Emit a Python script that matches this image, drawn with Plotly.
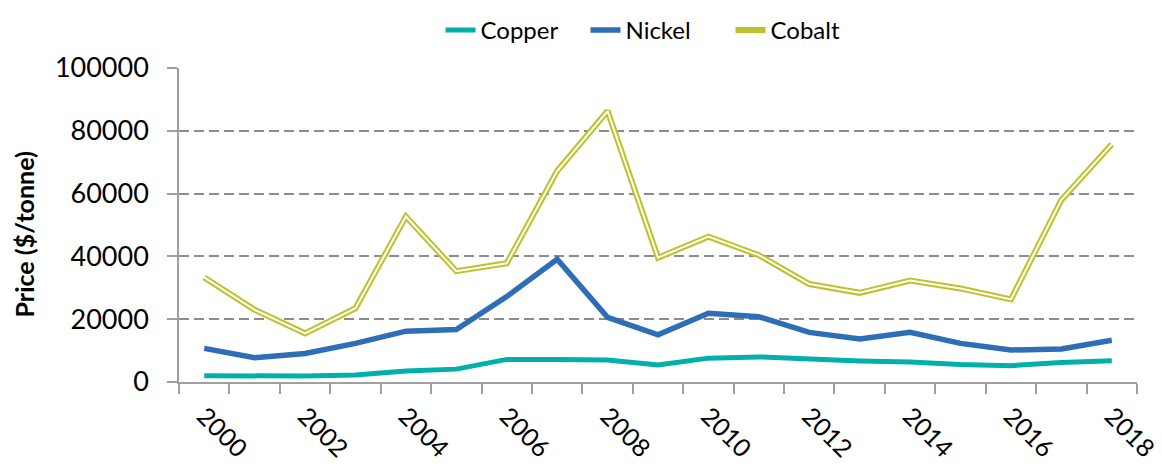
import plotly.graph_objects as go

years = list(range(2000, 2019))
copper = [2000, 1900, 1900, 2200, 3500, 4100, 7200, 7200, 7000, 5400, 7600, 8000, 7200, 6700, 6400, 5600, 5200, 6200, 6800]
nickel = [10700, 7700, 9100, 12300, 16200, 16700, 27200, 39100, 20600, 15000, 21900, 20800, 15800, 13700, 15800, 12300, 10200, 10500, 13300]
cobalt = [33300, 23000, 15500, 23500, 52700, 35300, 37800, 67200, 86300, 39600, 46300, 40400, 31200, 28400, 32300, 29800, 26300, 58000, 75700]
label_years = list(range(2000, 2019, 2))

FONT = "Lato, 'Open Sans', sans-serif"

fig = go.Figure()
fig.add_trace(go.Scatter(x=years, y=copper, mode="lines", name="Copper",
                         line=dict(color="#00B0A9", width=5)))
fig.add_trace(go.Scatter(x=years, y=nickel, mode="lines", name="Nickel",
                         line=dict(color="#2E6EB6", width=5.5)))
fig.add_trace(go.Scatter(x=years, y=cobalt, mode="lines", name="Cobalt",
                         line=dict(color="#BEC22A", width=6)))
fig.add_trace(go.Scatter(x=years, y=cobalt, mode="lines", name="Cobalt",
                         showlegend=False, hoverinfo="skip",
                         line=dict(color="#FFFFFF", width=2)))

# page body has an 8px margin, so the figure is 8px smaller and margins shifted
fig.update_layout(
    width=1154, height=460,
    margin=dict(l=171, r=25, t=60, b=86, autoexpand=False),
    paper_bgcolor="white", plot_bgcolor="white",
    font=dict(family=FONT, color="black"),
    legend=dict(orientation="h", x=0.5, xanchor="center", y=1.0, yanchor="top",
                yref="container", font=dict(size=24, family=FONT),
                tracegroupgap=0, entrywidth=100, entrywidthmode="pixels"),
    showlegend=True,
)

fig.update_xaxes(
    range=[1999.5, 2018.5], automargin=False,
    tickmode="array", tickvals=label_years, ticktext=[str(y) for y in label_years],
    tickangle=45, ticks="", ticklen=0, ticklabelstandoff=8,
    ticklabeloverflow="allow",
    tickfont=dict(size=25, family=FONT, color="black"),
    showgrid=False, zeroline=False,
    showline=True, linecolor="#A0A0A0", linewidth=1.5,
    minor=dict(tick0=1999.5, dtick=1, ticks="outside", ticklen=10,
               tickcolor="#A0A0A0", tickwidth=1.5, showgrid=False),
)
fig.update_yaxes(
    range=[0, 100000], tick0=0, dtick=20000, automargin=False,
    tickformat="d",
    ticks="outside", ticklen=10, tickcolor="#A0A0A0", tickwidth=1.5,
    tickfont=dict(size=27, family=FONT, color="black"),
    ticklabelstandoff=13,
    showgrid=True, gridcolor="#8C8C8C", gridwidth=1.5, griddash="10px,5px",
    zeroline=False, showline=True, linecolor="#A0A0A0", linewidth=1.5,
)

fig.add_annotation(
    text="<b>Price ($/tonne)</b>", textangle=-90,
    xref="paper", yref="paper",
    x=-(179 - 24) / 958, y=0.47, xanchor="center", yanchor="middle",
    showarrow=False, font=dict(size=25, family=FONT, color="black"),
)

fig.write_html("out.html")
